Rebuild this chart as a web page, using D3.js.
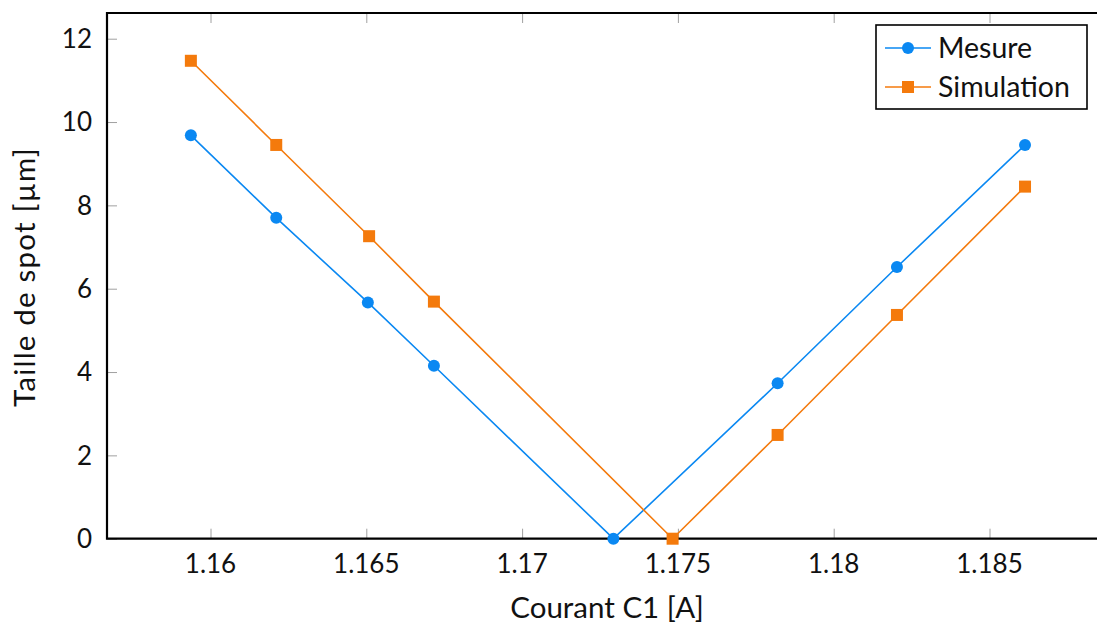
<!DOCTYPE html>
<html><head><meta charset="utf-8">
<script src="https://cdn.jsdelivr.net/npm/d3@7"></script>
<style>
html,body{margin:0;padding:0;background:#fff;}
svg text{font-family:Lato,"Open Sans",sans-serif;fill:#111;}
</style></head>
<body><svg id="c" width="1097" height="628"></svg>
<script>
const mesureX = [1.15937, 1.16211, 1.16505, 1.16717, 1.17293, 1.17820, 1.18203, 1.18614];
const mesureY = [9.68, 7.70, 5.67, 4.15, 0.0, 3.73, 6.52, 9.45];
const simX = [1.15937, 1.16211, 1.16509, 1.16717, 1.17483, 1.17820, 1.18203, 1.18614];
const simY = [11.47, 9.45, 7.26, 5.69, 0.0, 2.49, 5.37, 8.45];
const xTicks = [1.16, 1.165, 1.17, 1.175, 1.18, 1.185];
const xTickLabels = ["1.16", "1.165", "1.17", "1.175", "1.18", "1.185"];
const yTicks = [0, 2, 4, 6, 8, 10, 12];
const seriesNames = ["Mesure", "Simulation"];
const colors = ["#0a88f2", "#f47a0c"];

(function () {
const svg = d3.select("#c");
const pL = 107, pT = 13, pB = 538.7, pR = 1100;
const x = d3.scaleLinear().domain([1.16, 1.185]).range([210.5, 989.5]);
const y = d3.scaleLinear().domain([0, 12]).range([538.7, 38.7]);
const FS = 26;

const tickCol = "#a0a0a0";
svg.append("g").attr("transform", `translate(0,${pB})`)
  .call(d3.axisBottom(x).tickValues(xTicks).tickSize(-10).tickFormat(""))
  .call(g => { g.select(".domain").remove(); g.selectAll("line").attr("stroke", tickCol); });
svg.append("g").attr("transform", `translate(0,${pT})`)
  .call(d3.axisTop(x).tickValues(xTicks).tickSize(-10).tickFormat(""))
  .call(g => { g.select(".domain").remove(); g.selectAll("line").attr("stroke", tickCol); });
svg.append("g").attr("transform", `translate(${pL},0)`)
  .call(d3.axisLeft(y).tickValues(yTicks).tickSize(-10).tickFormat(""))
  .call(g => { g.select(".domain").remove(); g.selectAll("line").attr("stroke", tickCol); });

svg.append("g").selectAll("text").data(xTicks).join("text")
  .attr("x", d => x(d)).attr("y", 573).attr("text-anchor", "middle")
  .attr("font-size", FS).text((d, i) => xTickLabels[i]);
svg.append("g").selectAll("text").data(yTicks).join("text")
  .attr("x", 92).attr("y", d => y(d)).attr("dy", "0.36em").attr("text-anchor", "end")
  .attr("font-size", FS).text(d => d);

svg.append("path").attr("d", `M${pR},${pT}H${pL}V${pB}H${pR}`)
  .attr("fill", "none").attr("stroke", "#000").attr("stroke-width", 2.2);

svg.append("text").attr("x", 607).attr("y", 618).attr("text-anchor", "middle")
  .attr("font-size", 29.5).text("Courant C1 [A]");
svg.append("text").attr("transform", "translate(35,277) rotate(-90)").attr("text-anchor", "middle")
  .attr("font-size", 29.5).attr("letter-spacing", 1.2).text("Taille de spot [µm]");

const line = d3.line().x(d => x(d[0])).y(d => y(d[1]));
const mData = mesureX.map((v, i) => [v, mesureY[i]]);
const sData = simX.map((v, i) => [v, simY[i]]);
svg.append("path").datum(mData).attr("d", line).attr("fill", "none").attr("stroke", colors[0]).attr("stroke-width", 1.6);
svg.append("path").datum(sData).attr("d", line).attr("fill", "none").attr("stroke", colors[1]).attr("stroke-width", 1.6);
svg.append("g").selectAll("circle").data(mData).join("circle")
  .attr("cx", d => x(d[0])).attr("cy", d => y(d[1])).attr("r", 6).attr("fill", colors[0]);
svg.append("g").selectAll("rect").data(sData).join("rect")
  .attr("x", d => x(d[0]) - 6).attr("y", d => y(d[1]) - 6).attr("width", 12).attr("height", 12).attr("fill", colors[1]);

const lg = svg.append("g");
lg.append("rect").attr("x", 876).attr("y", 25).attr("width", 211).attr("height", 84)
  .attr("fill", "#fff").attr("stroke", "#000").attr("stroke-width", 1.6);
const ly = [48, 87];
seriesNames.forEach((n, i) => {
  lg.append("line").attr("x1", 885).attr("x2", 931).attr("y1", ly[i]).attr("y2", ly[i])
    .attr("stroke", colors[i]).attr("stroke-width", 1.6);
  if (i === 0) lg.append("circle").attr("cx", 908).attr("cy", ly[i]).attr("r", 6).attr("fill", colors[i]);
  else lg.append("rect").attr("x", 902).attr("y", ly[i] - 6).attr("width", 12).attr("height", 12).attr("fill", colors[i]);
  lg.append("text").attr("x", 938).attr("y", ly[i]).attr("dy", "0.36em").attr("font-size", 28.5).text(n);
});
})();
</script></body></html>
